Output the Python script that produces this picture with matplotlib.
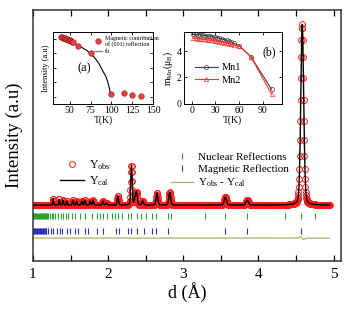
import numpy as np
import matplotlib
matplotlib.use("Agg")
import matplotlib.pyplot as plt
from matplotlib.lines import Line2D

plt.rcParams['font.family'] = ['Liberation Serif', 'DejaVu Serif']
plt.rcParams['mathtext.fontset'] = 'stix'

# ---- main pattern: peaks (d in A, height above background)
peak_d = [1.27, 1.35, 1.40, 1.45, 1.53, 1.58, 1.65, 1.69, 1.76, 1.80, 1.93, 1.98,
          2.13, 2.31, 2.36, 2.38, 2.46, 2.65, 2.82, 3.56, 3.85, 4.58]
peak_h = [7, 6, 5, 4, 5, 4, 4, 5, 4, 5, 4, 2,
          9, 40, 7, 12, 4, 12, 13, 8, 5, 181]
# calculated pattern shifts the strong reflection slightly (gives the residual)
cal_shift = [0, 0, 0, 0, 0, 0, 0, 0, 0, 0, 0, 0,
             0, 0.001, 0, 0, 0, 0, 0, 0, 0, 0.003]
d_start, d_stop, d_step = 1.0, 4.95, 0.004

nuclear_d = [1.00, 1.01, 1.02, 1.03, 1.04, 1.05, 1.06, 1.07, 1.08, 1.09, 1.10,
             1.11, 1.12, 1.13, 1.14, 1.15, 1.16, 1.17, 1.18, 1.19, 1.20,
             1.225, 1.25, 1.265, 1.29, 1.33, 1.37, 1.40, 1.44, 1.46, 1.52,
             1.56, 1.62, 1.69, 1.78, 1.85, 1.89, 1.93, 1.98, 2.05, 2.09,
             2.13, 2.18, 2.26, 2.30, 2.38, 2.44, 2.51, 2.59, 2.64, 2.80,
             2.84, 3.29, 3.56, 3.85, 4.35, 4.57, 4.75]
magnetic_d = [1.00, 1.01, 1.02, 1.03, 1.04, 1.05, 1.06, 1.07, 1.08, 1.09,
              1.10, 1.11, 1.12, 1.13, 1.14, 1.15, 1.16, 1.17, 1.18, 1.20,
              1.24, 1.265, 1.32, 1.36, 1.38, 1.45, 1.49, 1.56, 1.60, 1.69,
              1.73, 1.85, 1.93, 2.11, 2.14, 2.27, 2.31, 2.38, 2.48, 2.59,
              2.64, 2.80, 3.56, 3.85, 4.57]

# ---- inset (a): magnetic (001) intensity vs T
Ta = [40, 41, 42, 43, 44, 45, 46, 47, 48, 49, 50, 51, 52, 53, 54,
      60, 75, 100, 115, 125, 135]
Ia = [0.93, 0.925, 0.92, 0.915, 0.91, 0.905, 0.90, 0.895, 0.89, 0.885,
      0.88, 0.875, 0.87, 0.865, 0.86, 0.81, 0.71, 0.14, 0.15, 0.125, 0.11]
T_fit = [40, 45, 50, 55, 60, 65, 70, 75, 80, 85, 90, 93, 95, 97, 98, 98.6]
I_fit = [0.93, 0.91, 0.88, 0.85, 0.81, 0.78, 0.745, 0.70, 0.64, 0.56,
         0.45, 0.39, 0.33, 0.25, 0.19, 0.14]

# ---- inset (b): ordered moments
Tb = [2, 5, 8, 11, 14, 17, 20, 23, 26, 29, 32, 35, 38, 41, 44, 47, 50, 53,
      60, 75, 101]
mn1 = [5.26, 5.25, 5.24, 5.22, 5.20, 5.17, 5.14, 5.11, 5.08, 5.04, 5.00,
       4.96, 4.91, 4.86, 4.80, 4.74, 4.67, 4.60, 4.40, 3.57, 1.11]
mn2 = [4.96, 4.95, 4.93, 4.91, 4.89, 4.87, 4.85, 4.82, 4.80, 4.77, 4.74,
       4.71, 4.67, 4.63, 4.59, 4.55, 4.50, 4.46, 4.40, 3.55, 0.75]


def pattern(d, shifts):
    y = np.zeros_like(d)
    for p, h, s in zip(peak_d, peak_h, shifts):
        w = 0.0042 * p
        g = np.exp(-0.5 * ((d - p - s) / w) ** 2)
        lor = 1.0 / (1.0 + ((d - p - s) / (1.2 * w)) ** 2)
        y += h * (0.8 * g + 0.2 * lor)
    return y


d = np.arange(d_start, d_stop + 1e-9, d_step)
y_obs = pattern(d, [0] * len(peak_d))
y_cal = pattern(d, cal_shift)
y_diff = (y_obs - y_cal) * 0.08 - 33

fig = plt.figure(figsize=(3.47, 3.15), dpi=100)
ax = fig.add_axes([0.095, 0.171, 0.888, 0.797])

ax.plot(d, y_obs, ls='none', marker='o', ms=4.2, mfc='none', mec='#ff1a1a',
        mew=0.7, label=r'$\mathregular{Y_{obs}}$')
ax.plot(d, y_cal, color='black', lw=1.0, label=r'$\mathregular{Y_{cal}}$')
ax.plot(nuclear_d, [-11] * len(nuclear_d), ls='none', marker='|', ms=4,
        mew=0.8, color='#2ca02c')
ax.plot(magnetic_d, [-26] * len(magnetic_d), ls='none', marker='|', ms=4,
        mew=0.8, color='#3030c0')
ax.plot(d, y_diff, color='#b0ae60', lw=0.9)

ax.set_xlim(1, 5.1)
ax.set_ylim(-56, 195)
ax.set_xticks([1, 2, 3, 4, 5])
ax.set_xticks([1.5, 2.5, 3.5, 4.5], minor=True)
ax.set_yticks([])
ax.tick_params(axis='x', which='both', direction='in', top=True, length=4,
               width=0.9, labelsize=11, pad=5)
for s in ax.spines.values():
    s.set_linewidth(1.1)
    s.set_color('#333333')
ax.set_xlabel('d (Å)', fontsize=13, labelpad=1)
ax.set_ylabel('Intensity (a.u)', fontsize=13.5, labelpad=7)

leg1 = ax.legend(loc='upper left', bbox_to_anchor=(0.07, 0.435), frameon=False,
                 fontsize=8.5, handlelength=2.0, handletextpad=0.4,
                 labelspacing=0.2, borderpad=0)
ax.add_artist(leg1)
h2 = [Line2D([], [], ls='none', marker='|', ms=4, mew=0.8, color='#2ca02c'),
      Line2D([], [], ls='none', marker='|', ms=4, mew=0.8, color='#3030c0'),
      Line2D([], [], color='#b0ae60', lw=0.9)]
ax.legend(h2, ['Nuclear Reflections', 'Magnetic Reflection',
               r'$\mathregular{Y_{obs}}$ - $\mathregular{Y_{cal}}$'],
          loc='upper left', bbox_to_anchor=(0.43, 0.455), frameon=False,
          fontsize=8, handlelength=2.0, handletextpad=0.4,
          labelspacing=0.2, borderpad=0)

# inset (a)
axa = fig.add_axes([0.153, 0.670, 0.288, 0.229])
axa.plot(T_fit, I_fit, color='black', lw=0.8)
axa.plot(Ta, Ia, ls='none', marker='o', ms=4, mfc='#e84040', mec='#902020',
         mew=0.4)
axa.set_xlim(30, 150)
axa.set_ylim(0, 1)
axa.set_xticks([50, 75, 100, 125, 150])
axa.set_yticks([0.1, 0.3, 0.5, 0.7, 0.9])
axa.tick_params(direction='in', top=True, right=True, length=2.5, width=0.6,
                labelsize=7, pad=1.5, labelleft=False)
for s in axa.spines.values():
    s.set_linewidth(0.7)
axa.set_xlabel('T(K)', fontsize=7, labelpad=0)
axa.set_ylabel('Intensity (a.u)', fontsize=6, labelpad=2)
axa.text(0.24, 0.45, '(a)', transform=axa.transAxes, fontsize=9)
ha = [Line2D([], [], ls='none', marker='o', ms=4, mfc='#e84040',
             mec='#902020', mew=0.4),
      Line2D([], [], color='#888888', lw=1.0)]
axa.legend(ha, ['Magnetic contribution\nof (001) reflection', 'fit'],
           loc='upper left', bbox_to_anchor=(0.38, 0.99), frameon=False,
           fontsize=4.3, handlelength=1.4, handletextpad=0.4,
           labelspacing=0.2, borderpad=0)

# inset (b)
axb = fig.add_axes([0.530, 0.670, 0.282, 0.229])
axb.plot(Tb, mn1, color='#404040', lw=0.8, marker='o', ms=3, mfc='none',
         mew=0.5, label='Mn1')
axb.plot(Tb, mn2, color='#ff3030', lw=0.8, marker='^', ms=3.2, mfc='none',
         mew=0.5, label='Mn2')
axb.set_xlim(-10, 114)
axb.set_ylim(0, 5.45)
axb.set_xticks([0, 30, 60, 90])
axb.set_yticks([0, 2, 4])
axb.tick_params(direction='in', top=True, right=True, length=2.5, width=0.6,
                labelsize=7, pad=1.5)
for s in axb.spines.values():
    s.set_linewidth(0.7)
axb.set_xlabel('T(K)', fontsize=7, labelpad=0)
axb.set_ylabel(r'$\mathregular{m_{Mn}(\mu_B)}$', fontsize=7, labelpad=1)
axb.text(0.80, 0.68, '(b)', transform=axb.transAxes, fontsize=8.5)
axb.legend(loc='upper left', bbox_to_anchor=(0.06, 0.64), frameon=False,
           fontsize=7.5, handlelength=2.2, handletextpad=0.4,
           labelspacing=0.3, borderpad=0)

fig.savefig('out.png', dpi=100)
